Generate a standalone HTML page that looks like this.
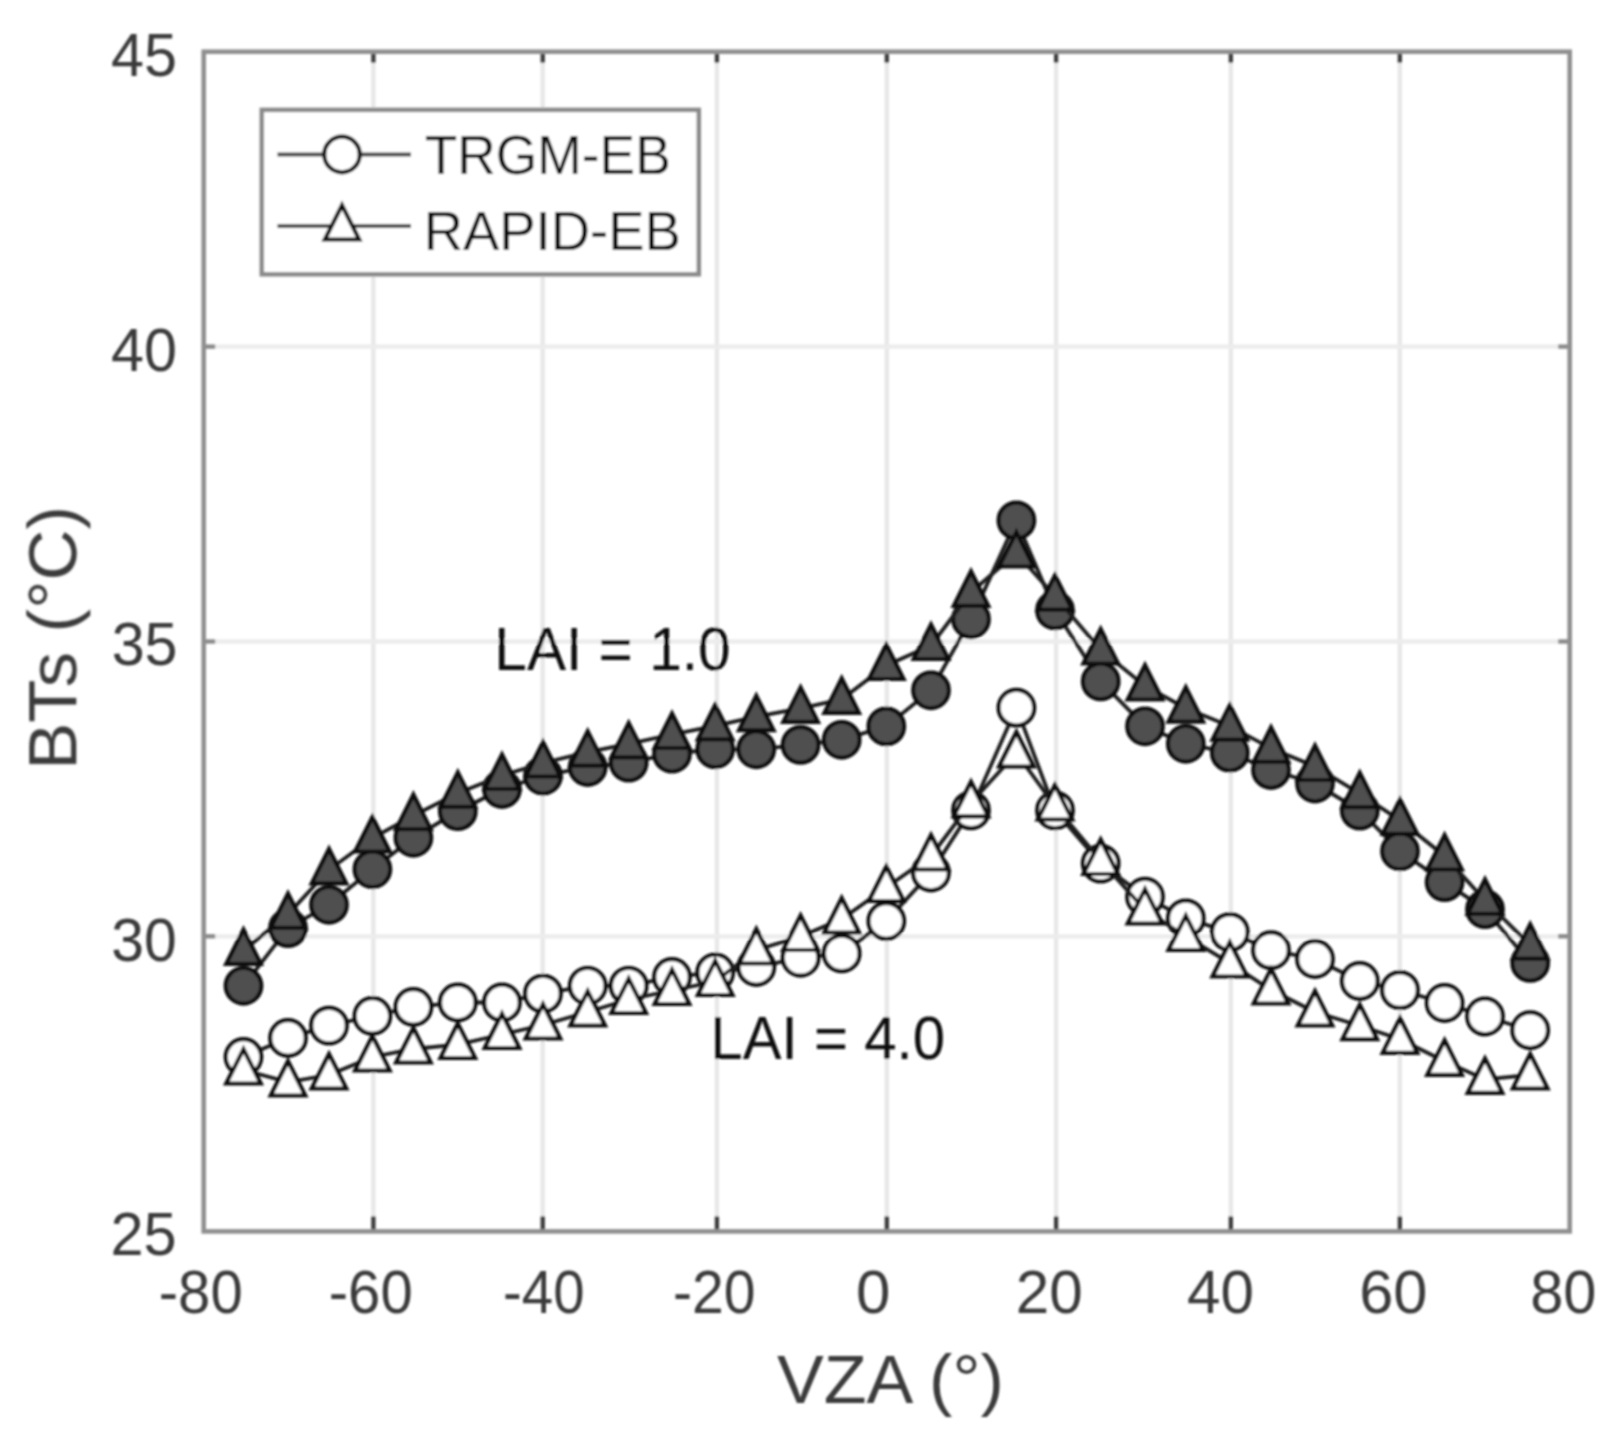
<!DOCTYPE html>
<html><head><meta charset="utf-8"><title>BTs vs VZA</title>
<style>html,body{margin:0;padding:0;background:#fff;}svg{display:block;}</style></head>
<body>
<svg width="1623" height="1448" viewBox="0 0 1623 1448" font-family="'Liberation Sans', Arial, Helvetica, sans-serif">
<rect width="1623" height="1448" fill="#fff"/>
<defs><filter id="soft" filterUnits="userSpaceOnUse" x="0" y="0" width="1623" height="1448"><feGaussianBlur stdDeviation="0.9"/></filter></defs>
<g filter="url(#soft)">
<g stroke="#e7e7e7" stroke-width="4.3">
<line x1="373.4" y1="51.7" x2="373.4" y2="1231.4"/>
<line x1="542.7" y1="51.7" x2="542.7" y2="1231.4"/>
<line x1="716.9" y1="51.7" x2="716.9" y2="1231.4"/>
<line x1="886.8" y1="51.7" x2="886.8" y2="1231.4"/>
<line x1="1056.1" y1="51.7" x2="1056.1" y2="1231.4"/>
<line x1="1230.8" y1="51.7" x2="1230.8" y2="1231.4"/>
<line x1="1399.8" y1="51.7" x2="1399.8" y2="1231.4"/>
<line x1="203.7" y1="346.6" x2="1569.7" y2="346.6" stroke="#ececec"/>
<line x1="203.7" y1="641.5" x2="1569.7" y2="641.5" stroke="#ececec"/>
<line x1="203.7" y1="936.3" x2="1569.7" y2="936.3" stroke="#ececec"/>
</g>
<g>
<polyline fill="none" stroke="#1c1c1c" stroke-width="3.8" points="243.5,985.8 288.0,928.1 329.0,904.8 372.4,869.3 413.4,837.8 457.8,811.2 502.0,789.0 543.0,775.8 587.7,767.0 628.7,762.6 672.0,753.7 715.2,749.3 756.3,749.3 800.6,744.9 841.7,739.8 886.3,726.4 931.0,690.3 971.0,619.3 1016.4,520.4 1055.0,610.4 1100.7,681.4 1145.0,726.3 1185.8,743.8 1229.8,752.7 1271.0,770.0 1315.0,783.5 1359.8,810.6 1400.0,851.3 1444.6,882.1 1485.0,909.2 1530.2,962.9"/>
<circle cx="243.5" cy="985.8" r="17.8" fill="#505050" stroke="#111" stroke-width="4.2"/><circle cx="288.0" cy="928.1" r="17.8" fill="#505050" stroke="#111" stroke-width="4.2"/><circle cx="329.0" cy="904.8" r="17.8" fill="#505050" stroke="#111" stroke-width="4.2"/><circle cx="372.4" cy="869.3" r="17.8" fill="#505050" stroke="#111" stroke-width="4.2"/><circle cx="413.4" cy="837.8" r="17.8" fill="#505050" stroke="#111" stroke-width="4.2"/><circle cx="457.8" cy="811.2" r="17.8" fill="#505050" stroke="#111" stroke-width="4.2"/><circle cx="502.0" cy="789.0" r="17.8" fill="#505050" stroke="#111" stroke-width="4.2"/><circle cx="543.0" cy="775.8" r="17.8" fill="#505050" stroke="#111" stroke-width="4.2"/><circle cx="587.7" cy="767.0" r="17.8" fill="#505050" stroke="#111" stroke-width="4.2"/><circle cx="628.7" cy="762.6" r="17.8" fill="#505050" stroke="#111" stroke-width="4.2"/><circle cx="672.0" cy="753.7" r="17.8" fill="#505050" stroke="#111" stroke-width="4.2"/><circle cx="715.2" cy="749.3" r="17.8" fill="#505050" stroke="#111" stroke-width="4.2"/><circle cx="756.3" cy="749.3" r="17.8" fill="#505050" stroke="#111" stroke-width="4.2"/><circle cx="800.6" cy="744.9" r="17.8" fill="#505050" stroke="#111" stroke-width="4.2"/><circle cx="841.7" cy="739.8" r="17.8" fill="#505050" stroke="#111" stroke-width="4.2"/><circle cx="886.3" cy="726.4" r="17.8" fill="#505050" stroke="#111" stroke-width="4.2"/><circle cx="931.0" cy="690.3" r="17.8" fill="#505050" stroke="#111" stroke-width="4.2"/><circle cx="971.0" cy="619.3" r="17.8" fill="#505050" stroke="#111" stroke-width="4.2"/><circle cx="1016.4" cy="520.4" r="17.8" fill="#505050" stroke="#111" stroke-width="4.2"/><circle cx="1055.0" cy="610.4" r="17.8" fill="#505050" stroke="#111" stroke-width="4.2"/><circle cx="1100.7" cy="681.4" r="17.8" fill="#505050" stroke="#111" stroke-width="4.2"/><circle cx="1145.0" cy="726.3" r="17.8" fill="#505050" stroke="#111" stroke-width="4.2"/><circle cx="1185.8" cy="743.8" r="17.8" fill="#505050" stroke="#111" stroke-width="4.2"/><circle cx="1229.8" cy="752.7" r="17.8" fill="#505050" stroke="#111" stroke-width="4.2"/><circle cx="1271.0" cy="770.0" r="17.8" fill="#505050" stroke="#111" stroke-width="4.2"/><circle cx="1315.0" cy="783.5" r="17.8" fill="#505050" stroke="#111" stroke-width="4.2"/><circle cx="1359.8" cy="810.6" r="17.8" fill="#505050" stroke="#111" stroke-width="4.2"/><circle cx="1400.0" cy="851.3" r="17.8" fill="#505050" stroke="#111" stroke-width="4.2"/><circle cx="1444.6" cy="882.1" r="17.8" fill="#505050" stroke="#111" stroke-width="4.2"/><circle cx="1485.0" cy="909.2" r="17.8" fill="#505050" stroke="#111" stroke-width="4.2"/><circle cx="1530.2" cy="962.9" r="17.8" fill="#505050" stroke="#111" stroke-width="4.2"/>
<polyline fill="none" stroke="#1c1c1c" stroke-width="3.8" points="243.5,950.4 288.0,914.4 329.0,869.8 372.4,838.0 413.4,815.6 457.8,793.3 502.0,775.5 543.0,763.0 587.7,752.2 628.7,743.9 672.0,734.5 715.2,725.9 756.3,716.7 800.6,708.4 841.7,699.3 886.3,665.5 931.0,645.5 971.0,592.3 1016.4,553.0 1055.0,596.2 1100.7,650.0 1145.0,686.0 1185.8,708.2 1229.8,726.2 1271.0,748.3 1315.0,766.5 1359.8,793.7 1400.0,820.4 1444.6,856.0 1485.0,900.3 1530.2,945.2"/>
<path d="M243.5,929.6 L260.7,963.9 L226.3,963.9 Z" fill="#505050" stroke="#111" stroke-width="4.2"/><path d="M288.0,893.6 L305.2,927.9 L270.8,927.9 Z" fill="#505050" stroke="#111" stroke-width="4.2"/><path d="M329.0,849.0 L346.2,883.3 L311.8,883.3 Z" fill="#505050" stroke="#111" stroke-width="4.2"/><path d="M372.4,817.2 L389.6,851.5 L355.2,851.5 Z" fill="#505050" stroke="#111" stroke-width="4.2"/><path d="M413.4,794.8 L430.6,829.1 L396.2,829.1 Z" fill="#505050" stroke="#111" stroke-width="4.2"/><path d="M457.8,772.5 L475.0,806.8 L440.6,806.8 Z" fill="#505050" stroke="#111" stroke-width="4.2"/><path d="M502.0,754.7 L519.2,789.0 L484.8,789.0 Z" fill="#505050" stroke="#111" stroke-width="4.2"/><path d="M543.0,742.2 L560.2,776.5 L525.8,776.5 Z" fill="#505050" stroke="#111" stroke-width="4.2"/><path d="M587.7,731.4 L604.9,765.7 L570.5,765.7 Z" fill="#505050" stroke="#111" stroke-width="4.2"/><path d="M628.7,723.1 L645.9,757.4 L611.5,757.4 Z" fill="#505050" stroke="#111" stroke-width="4.2"/><path d="M672.0,713.7 L689.2,748.0 L654.8,748.0 Z" fill="#505050" stroke="#111" stroke-width="4.2"/><path d="M715.2,705.1 L732.4,739.4 L698.0,739.4 Z" fill="#505050" stroke="#111" stroke-width="4.2"/><path d="M756.3,695.9 L773.5,730.2 L739.1,730.2 Z" fill="#505050" stroke="#111" stroke-width="4.2"/><path d="M800.6,687.6 L817.8,721.9 L783.4,721.9 Z" fill="#505050" stroke="#111" stroke-width="4.2"/><path d="M841.7,678.5 L858.9,712.8 L824.5,712.8 Z" fill="#505050" stroke="#111" stroke-width="4.2"/><path d="M886.3,644.7 L903.5,679.0 L869.1,679.0 Z" fill="#505050" stroke="#111" stroke-width="4.2"/><path d="M931.0,624.7 L948.2,659.0 L913.8,659.0 Z" fill="#505050" stroke="#111" stroke-width="4.2"/><path d="M971.0,571.5 L988.2,605.8 L953.8,605.8 Z" fill="#505050" stroke="#111" stroke-width="4.2"/><path d="M1016.4,532.2 L1033.6,566.5 L999.2,566.5 Z" fill="#505050" stroke="#111" stroke-width="4.2"/><path d="M1055.0,575.4 L1072.2,609.7 L1037.8,609.7 Z" fill="#505050" stroke="#111" stroke-width="4.2"/><path d="M1100.7,629.2 L1117.9,663.5 L1083.5,663.5 Z" fill="#505050" stroke="#111" stroke-width="4.2"/><path d="M1145.0,665.2 L1162.2,699.5 L1127.8,699.5 Z" fill="#505050" stroke="#111" stroke-width="4.2"/><path d="M1185.8,687.4 L1203.0,721.7 L1168.6,721.7 Z" fill="#505050" stroke="#111" stroke-width="4.2"/><path d="M1229.8,705.4 L1247.0,739.7 L1212.6,739.7 Z" fill="#505050" stroke="#111" stroke-width="4.2"/><path d="M1271.0,727.5 L1288.2,761.8 L1253.8,761.8 Z" fill="#505050" stroke="#111" stroke-width="4.2"/><path d="M1315.0,745.7 L1332.2,780.0 L1297.8,780.0 Z" fill="#505050" stroke="#111" stroke-width="4.2"/><path d="M1359.8,772.9 L1377.0,807.2 L1342.6,807.2 Z" fill="#505050" stroke="#111" stroke-width="4.2"/><path d="M1400.0,799.6 L1417.2,833.9 L1382.8,833.9 Z" fill="#505050" stroke="#111" stroke-width="4.2"/><path d="M1444.6,835.2 L1461.8,869.5 L1427.4,869.5 Z" fill="#505050" stroke="#111" stroke-width="4.2"/><path d="M1485.0,879.5 L1502.2,913.8 L1467.8,913.8 Z" fill="#505050" stroke="#111" stroke-width="4.2"/><path d="M1530.2,924.4 L1547.4,958.7 L1513.0,958.7 Z" fill="#505050" stroke="#111" stroke-width="4.2"/>
<polyline fill="none" stroke="#1c1c1c" stroke-width="3.8" points="243.5,1057.0 288.0,1038.0 329.0,1025.6 372.4,1016.0 413.4,1007.0 457.8,1002.5 502.0,1002.5 543.0,993.6 587.7,985.8 628.7,985.8 672.0,977.0 715.2,972.5 756.3,967.0 800.6,957.8 841.7,953.4 886.3,921.0 931.0,872.5 971.0,810.4 1016.4,707.7 1055.0,810.4 1100.7,863.6 1145.0,896.7 1185.8,918.4 1229.8,932.1 1271.0,950.2 1315.0,959.0 1359.8,981.0 1400.0,990.1 1444.6,1003.0 1485.0,1016.5 1530.2,1030.2"/>
<circle cx="243.5" cy="1057.0" r="17.8" fill="#fff" stroke="#111" stroke-width="4.2"/><circle cx="288.0" cy="1038.0" r="17.8" fill="#fff" stroke="#111" stroke-width="4.2"/><circle cx="329.0" cy="1025.6" r="17.8" fill="#fff" stroke="#111" stroke-width="4.2"/><circle cx="372.4" cy="1016.0" r="17.8" fill="#fff" stroke="#111" stroke-width="4.2"/><circle cx="413.4" cy="1007.0" r="17.8" fill="#fff" stroke="#111" stroke-width="4.2"/><circle cx="457.8" cy="1002.5" r="17.8" fill="#fff" stroke="#111" stroke-width="4.2"/><circle cx="502.0" cy="1002.5" r="17.8" fill="#fff" stroke="#111" stroke-width="4.2"/><circle cx="543.0" cy="993.6" r="17.8" fill="#fff" stroke="#111" stroke-width="4.2"/><circle cx="587.7" cy="985.8" r="17.8" fill="#fff" stroke="#111" stroke-width="4.2"/><circle cx="628.7" cy="985.8" r="17.8" fill="#fff" stroke="#111" stroke-width="4.2"/><circle cx="672.0" cy="977.0" r="17.8" fill="#fff" stroke="#111" stroke-width="4.2"/><circle cx="715.2" cy="972.5" r="17.8" fill="#fff" stroke="#111" stroke-width="4.2"/><circle cx="756.3" cy="967.0" r="17.8" fill="#fff" stroke="#111" stroke-width="4.2"/><circle cx="800.6" cy="957.8" r="17.8" fill="#fff" stroke="#111" stroke-width="4.2"/><circle cx="841.7" cy="953.4" r="17.8" fill="#fff" stroke="#111" stroke-width="4.2"/><circle cx="886.3" cy="921.0" r="17.8" fill="#fff" stroke="#111" stroke-width="4.2"/><circle cx="931.0" cy="872.5" r="17.8" fill="#fff" stroke="#111" stroke-width="4.2"/><circle cx="971.0" cy="810.4" r="17.8" fill="#fff" stroke="#111" stroke-width="4.2"/><circle cx="1016.4" cy="707.7" r="17.8" fill="#fff" stroke="#111" stroke-width="4.2"/><circle cx="1055.0" cy="810.4" r="17.8" fill="#fff" stroke="#111" stroke-width="4.2"/><circle cx="1100.7" cy="863.6" r="17.8" fill="#fff" stroke="#111" stroke-width="4.2"/><circle cx="1145.0" cy="896.7" r="17.8" fill="#fff" stroke="#111" stroke-width="4.2"/><circle cx="1185.8" cy="918.4" r="17.8" fill="#fff" stroke="#111" stroke-width="4.2"/><circle cx="1229.8" cy="932.1" r="17.8" fill="#fff" stroke="#111" stroke-width="4.2"/><circle cx="1271.0" cy="950.2" r="17.8" fill="#fff" stroke="#111" stroke-width="4.2"/><circle cx="1315.0" cy="959.0" r="17.8" fill="#fff" stroke="#111" stroke-width="4.2"/><circle cx="1359.8" cy="981.0" r="17.8" fill="#fff" stroke="#111" stroke-width="4.2"/><circle cx="1400.0" cy="990.1" r="17.8" fill="#fff" stroke="#111" stroke-width="4.2"/><circle cx="1444.6" cy="1003.0" r="17.8" fill="#fff" stroke="#111" stroke-width="4.2"/><circle cx="1485.0" cy="1016.5" r="17.8" fill="#fff" stroke="#111" stroke-width="4.2"/><circle cx="1530.2" cy="1030.2" r="17.8" fill="#fff" stroke="#111" stroke-width="4.2"/>
<polyline fill="none" stroke="#1c1c1c" stroke-width="3.8" points="243.5,1070.0 288.0,1082.0 329.0,1075.0 372.4,1057.0 413.4,1049.0 457.8,1044.5 502.0,1034.5 543.0,1025.0 587.7,1012.0 628.7,999.5 672.0,990.5 715.2,981.5 756.3,950.0 800.6,936.5 841.7,919.0 886.3,887.5 931.0,856.0 971.0,802.8 1016.4,753.0 1055.0,806.0 1100.7,860.5 1145.0,910.0 1185.8,936.5 1229.8,963.0 1271.0,990.0 1315.0,1012.0 1359.8,1025.7 1400.0,1039.3 1444.6,1061.3 1485.0,1079.4 1530.2,1075.0"/>
<path d="M243.5,1049.2 L260.7,1083.5 L226.3,1083.5 Z" fill="#fff" stroke="#111" stroke-width="4.2"/><path d="M288.0,1061.2 L305.2,1095.5 L270.8,1095.5 Z" fill="#fff" stroke="#111" stroke-width="4.2"/><path d="M329.0,1054.2 L346.2,1088.5 L311.8,1088.5 Z" fill="#fff" stroke="#111" stroke-width="4.2"/><path d="M372.4,1036.2 L389.6,1070.5 L355.2,1070.5 Z" fill="#fff" stroke="#111" stroke-width="4.2"/><path d="M413.4,1028.2 L430.6,1062.5 L396.2,1062.5 Z" fill="#fff" stroke="#111" stroke-width="4.2"/><path d="M457.8,1023.7 L475.0,1058.0 L440.6,1058.0 Z" fill="#fff" stroke="#111" stroke-width="4.2"/><path d="M502.0,1013.7 L519.2,1048.0 L484.8,1048.0 Z" fill="#fff" stroke="#111" stroke-width="4.2"/><path d="M543.0,1004.2 L560.2,1038.5 L525.8,1038.5 Z" fill="#fff" stroke="#111" stroke-width="4.2"/><path d="M587.7,991.2 L604.9,1025.5 L570.5,1025.5 Z" fill="#fff" stroke="#111" stroke-width="4.2"/><path d="M628.7,978.7 L645.9,1013.0 L611.5,1013.0 Z" fill="#fff" stroke="#111" stroke-width="4.2"/><path d="M672.0,969.7 L689.2,1004.0 L654.8,1004.0 Z" fill="#fff" stroke="#111" stroke-width="4.2"/><path d="M715.2,960.7 L732.4,995.0 L698.0,995.0 Z" fill="#fff" stroke="#111" stroke-width="4.2"/><path d="M756.3,929.2 L773.5,963.5 L739.1,963.5 Z" fill="#fff" stroke="#111" stroke-width="4.2"/><path d="M800.6,915.7 L817.8,950.0 L783.4,950.0 Z" fill="#fff" stroke="#111" stroke-width="4.2"/><path d="M841.7,898.2 L858.9,932.5 L824.5,932.5 Z" fill="#fff" stroke="#111" stroke-width="4.2"/><path d="M886.3,866.7 L903.5,901.0 L869.1,901.0 Z" fill="#fff" stroke="#111" stroke-width="4.2"/><path d="M931.0,835.2 L948.2,869.5 L913.8,869.5 Z" fill="#fff" stroke="#111" stroke-width="4.2"/><path d="M971.0,782.0 L988.2,816.3 L953.8,816.3 Z" fill="#fff" stroke="#111" stroke-width="4.2"/><path d="M1016.4,732.2 L1033.6,766.5 L999.2,766.5 Z" fill="#fff" stroke="#111" stroke-width="4.2"/><path d="M1055.0,785.2 L1072.2,819.5 L1037.8,819.5 Z" fill="#fff" stroke="#111" stroke-width="4.2"/><path d="M1100.7,839.7 L1117.9,874.0 L1083.5,874.0 Z" fill="#fff" stroke="#111" stroke-width="4.2"/><path d="M1145.0,889.2 L1162.2,923.5 L1127.8,923.5 Z" fill="#fff" stroke="#111" stroke-width="4.2"/><path d="M1185.8,915.7 L1203.0,950.0 L1168.6,950.0 Z" fill="#fff" stroke="#111" stroke-width="4.2"/><path d="M1229.8,942.2 L1247.0,976.5 L1212.6,976.5 Z" fill="#fff" stroke="#111" stroke-width="4.2"/><path d="M1271.0,969.2 L1288.2,1003.5 L1253.8,1003.5 Z" fill="#fff" stroke="#111" stroke-width="4.2"/><path d="M1315.0,991.2 L1332.2,1025.5 L1297.8,1025.5 Z" fill="#fff" stroke="#111" stroke-width="4.2"/><path d="M1359.8,1004.9 L1377.0,1039.2 L1342.6,1039.2 Z" fill="#fff" stroke="#111" stroke-width="4.2"/><path d="M1400.0,1018.5 L1417.2,1052.8 L1382.8,1052.8 Z" fill="#fff" stroke="#111" stroke-width="4.2"/><path d="M1444.6,1040.5 L1461.8,1074.8 L1427.4,1074.8 Z" fill="#fff" stroke="#111" stroke-width="4.2"/><path d="M1485.0,1058.6 L1502.2,1092.9 L1467.8,1092.9 Z" fill="#fff" stroke="#111" stroke-width="4.2"/><path d="M1530.2,1054.2 L1547.4,1088.5 L1513.0,1088.5 Z" fill="#fff" stroke="#111" stroke-width="4.2"/>
</g>
<g stroke="#3a3a3a" stroke-width="4.3">
<line x1="373.4" y1="1231.4" x2="373.4" y2="1216.4"/>
<line x1="373.4" y1="51.7" x2="373.4" y2="62.7"/>
<line x1="542.7" y1="1231.4" x2="542.7" y2="1216.4"/>
<line x1="542.7" y1="51.7" x2="542.7" y2="62.7"/>
<line x1="716.9" y1="1231.4" x2="716.9" y2="1216.4"/>
<line x1="716.9" y1="51.7" x2="716.9" y2="62.7"/>
<line x1="886.8" y1="1231.4" x2="886.8" y2="1216.4"/>
<line x1="886.8" y1="51.7" x2="886.8" y2="62.7"/>
<line x1="1056.1" y1="1231.4" x2="1056.1" y2="1216.4"/>
<line x1="1056.1" y1="51.7" x2="1056.1" y2="62.7"/>
<line x1="1230.8" y1="1231.4" x2="1230.8" y2="1216.4"/>
<line x1="1230.8" y1="51.7" x2="1230.8" y2="62.7"/>
<line x1="1399.8" y1="1231.4" x2="1399.8" y2="1216.4"/>
<line x1="1399.8" y1="51.7" x2="1399.8" y2="62.7"/>
</g>
<g stroke="#8a8a8a" stroke-width="4.3">
<line x1="203.7" y1="346.6" x2="215.2" y2="346.6"/>
<line x1="1569.7" y1="346.6" x2="1558.2" y2="346.6"/>
<line x1="203.7" y1="641.5" x2="215.2" y2="641.5"/>
<line x1="1569.7" y1="641.5" x2="1558.2" y2="641.5"/>
<line x1="203.7" y1="936.3" x2="215.2" y2="936.3"/>
<line x1="1569.7" y1="936.3" x2="1558.2" y2="936.3"/>
</g>
<rect x="203.7" y="51.7" width="1366.0" height="1179.7" fill="none" stroke="#8f8f8f" stroke-width="4.6"/>
<rect x="261.8" y="109.9" width="437" height="164.4" fill="#fff" stroke="#8a8a8a" stroke-width="4.5"/>
<line x1="277.5" y1="154.5" x2="411" y2="154.5" stroke="#4a4a4a" stroke-width="4.2"/>
<circle cx="342" cy="154.5" r="17.8" fill="#fff" stroke="#111" stroke-width="4.2"/>
<line x1="277.5" y1="226" x2="411" y2="226" stroke="#4a4a4a" stroke-width="4.2"/>
<path d="M342.0,205.2 L359.2,239.5 L324.8,239.5 Z" fill="#fff" stroke="#111" stroke-width="4.2"/>
<text transform="translate(424.63,174.00) scale(0.9534,1)" font-size="56" fill="#111">TRGM-EB</text>
<text transform="translate(423.64,250.00) scale(0.9726,1)" font-size="56" fill="#111">RAPID-EB</text>
<text transform="translate(494.31,669.90) scale(0.9614,1)" font-size="61" fill="#111">LAI = 1.0</text>
<text transform="translate(710.34,1059.00) scale(0.9551,1)" font-size="61" fill="#111">LAI = 4.0</text>
<text transform="translate(158.78,1313.30) scale(0.9525,1)" font-size="61" fill="#3a3a3a">-80</text>
<text transform="translate(328.67,1313.30) scale(0.9537,1)" font-size="61" fill="#3a3a3a">-60</text>
<text transform="translate(503.05,1313.30) scale(0.9238,1)" font-size="61" fill="#3a3a3a">-40</text>
<text transform="translate(672.91,1313.30) scale(0.9369,1)" font-size="61" fill="#3a3a3a">-20</text>
<text transform="translate(856.02,1313.30) scale(1.0143,1)" font-size="61" fill="#3a3a3a">0</text>
<text transform="translate(1015.79,1313.30) scale(0.9884,1)" font-size="61" fill="#3a3a3a">20</text>
<text transform="translate(1187.10,1313.30) scale(0.9867,1)" font-size="61" fill="#3a3a3a">40</text>
<text transform="translate(1359.13,1313.30) scale(1.0061,1)" font-size="61" fill="#3a3a3a">60</text>
<text transform="translate(1530.22,1313.30) scale(0.9772,1)" font-size="61" fill="#3a3a3a">80</text>
<text transform="translate(111.11,75.60) scale(0.9727,1)" font-size="61" fill="#3a3a3a">45</text>
<text transform="translate(111.11,371.00) scale(0.9727,1)" font-size="61" fill="#3a3a3a">40</text>
<text transform="translate(111.63,665.30) scale(0.9709,1)" font-size="61" fill="#3a3a3a">35</text>
<text transform="translate(111.14,960.60) scale(0.9661,1)" font-size="61" fill="#3a3a3a">30</text>
<text transform="translate(110.52,1255.30) scale(0.9756,1)" font-size="61" fill="#3a3a3a">25</text>
<text transform="translate(776.90,1402.70) scale(1.0322,1)" font-size="68" fill="#3a3a3a">VZA (°)</text>
<text transform="translate(76.3,769.75) rotate(-90) scale(1.0388,1)" font-size="68" fill="#3a3a3a">BTs (°C)</text>
</g>
</svg>
</body></html>
